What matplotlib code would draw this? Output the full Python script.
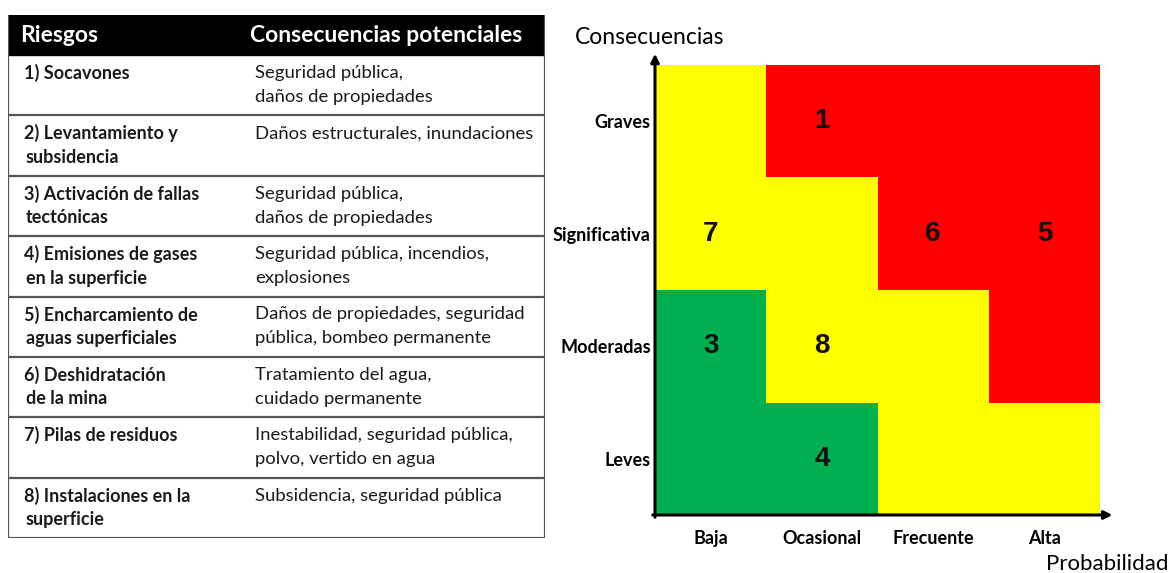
import matplotlib
matplotlib.use("Agg")
import matplotlib.pyplot as plt
from matplotlib.colors import ListedColormap
import numpy as np

plt.rcParams['font.family'] = ['Lato', 'DejaVu Sans']

# --- table data ---
riesgos = [
    ["1) Socavones"],
    ["2) Levantamiento y", "subsidencia"],
    ["3) Activación de fallas", "tectónicas"],
    ["4) Emisiones de gases", "en la superficie"],
    ["5) Encharcamiento de", "aguas superficiales"],
    ["6) Deshidratación", "de la mina"],
    ["7) Pilas de residuos"],
    ["8) Instalaciones en la", "superficie"],
]
consecuencias = [
    ["Seguridad pública,", "daños de propiedades"],
    ["Daños estructurales, inundaciones"],
    ["Seguridad pública,", "daños de propiedades"],
    ["Seguridad pública, incendios,", "explosiones"],
    ["Daños de propiedades, seguridad", "pública, bombeo permanente"],
    ["Tratamiento del agua,", "cuidado permanente"],
    ["Inestabilidad, seguridad pública,", "polvo, vertido en agua"],
    ["Subsidencia, seguridad pública"],
]
headers = ["Riesgos", "Consecuencias potenciales"]

# --- matrix data ---
probabilidad = ["Baja", "Ocasional", "Frecuente", "Alta"]
nivel_consecuencia = ["Leves", "Moderadas", "Significativa", "Graves"]
# risk level per cell, rows from Leves (bottom) to Graves (top); 0=green 1=yellow 2=red
nivel_riesgo = [
    [0, 0, 1, 1],
    [0, 1, 1, 2],
    [1, 1, 2, 2],
    [1, 2, 2, 2],
]
ids = ["1", "3", "4", "5", "6", "7", "8"]
id_prob = [1, 0, 1, 3, 2, 0, 1]
id_cons = [3, 1, 0, 2, 2, 2, 1]

W, H = 1175, 573
fig = plt.figure(figsize=(W / 100, H / 100), dpi=100)

# ---------- table ----------
tl, tr, tt, tb = 8, 545, 15, 538
head_h = 40
ax_t = fig.add_axes([tl / W, 1 - tb / H, (tr - tl) / W, (tb - tt) / H])
ax_t.set_xlim(tl, tr)
ax_t.set_ylim(tb, tt)
ax_t.axis('off')

ax_t.add_patch(plt.Rectangle((tl, tt), tr - tl, head_h, color='black', zorder=2))
ax_t.text(20, tt + head_h / 2 + 1, headers[0], color='white', fontsize=16.5,
          fontweight='bold', va='center', ha='left', zorder=3)
ax_t.text(250, tt + head_h / 2 + 1, headers[1], color='white', fontsize=16.5,
          fontweight='bold', va='center', ha='left', zorder=3)

row_h = (tb - tt - head_h) / len(riesgos)
for i, (r, c) in enumerate(zip(riesgos, consecuencias)):
    top = tt + head_h + i * row_h
    for j, line in enumerate(r):
        ax_t.text(24 if j == 0 else 26, top + 18 + j * 24, line, fontsize=13,
                  fontweight='bold', color='#1a1a1a', va='center', ha='left')
    for j, line in enumerate(c):
        ax_t.text(255, top + 18 + j * 24, line, fontsize=13.3,
                  color='#1a1a1a', va='center', ha='left')
    ax_t.plot([tl, tr], [top + row_h, top + row_h], color='#555555', lw=1.6)
ax_t.plot([tl, tl], [tt, tb], color='#555555', lw=1.6)
ax_t.plot([tr, tr], [tt, tb], color='#555555', lw=1.6)

# ---------- risk matrix ----------
ml, mr, mt, mb = 655, 1100, 65, 515
ax_m = fig.add_axes([ml / W, 1 - mb / H, (mr - ml) / W, (mb - mt) / H])
cmap = ListedColormap(['#00B050', '#FFFF00', '#FF0000'])
ax_m.pcolormesh(np.arange(5), np.arange(5), np.array(nivel_riesgo), cmap=cmap,
                vmin=-0.5, vmax=2.5)
ax_m.set_xlim(0, 4)
ax_m.set_ylim(0, 4)
for s in ax_m.spines.values():
    s.set_visible(False)

for t, px, cy in zip(ids, id_prob, id_cons):
    ax_m.text(px + 0.5, cy + 0.5, t, fontsize=20, fontweight='bold',
              family='Liberation Sans', ha='center', va='center', color='#111111')

ax_m.set_xticks(np.arange(4) + 0.5)
ax_m.set_xticklabels(probabilidad, fontsize=13, fontweight='bold')
ax_m.set_yticks(np.arange(4) + 0.5)
ax_m.set_yticklabels(nivel_consecuencia, fontsize=13, fontweight='bold')
ax_m.tick_params(axis='x', length=0, pad=11)
ax_m.tick_params(axis='y', length=0, pad=3)

ax_m.annotate('', xy=(0, 1.025), xytext=(0, -0.005), xycoords='axes fraction',
              arrowprops=dict(arrowstyle='-|>', color='black', lw=2.2,
                              mutation_scale=12, shrinkA=0, shrinkB=0),
              annotation_clip=False)
ax_m.annotate('', xy=(1.028, 0), xytext=(-0.005, 0), xycoords='axes fraction',
              arrowprops=dict(arrowstyle='-|>', color='black', lw=2.2,
                              mutation_scale=12, shrinkA=0, shrinkB=0),
              annotation_clip=False)

fig.text(575 / W, 1 - 37 / H, "Consecuencias", fontsize=16.5, ha='left', va='center')
fig.text(1169 / W, 1 - 564 / H, "Probabilidad", fontsize=16, ha='right', va='center')

fig.savefig("out.png", dpi=100)
